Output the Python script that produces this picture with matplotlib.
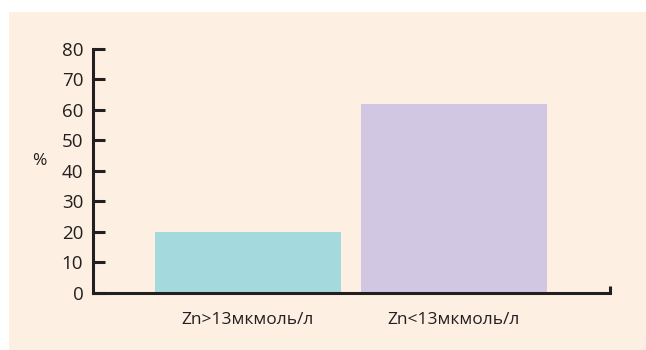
import matplotlib
matplotlib.use("Agg")
import matplotlib.pyplot as plt
from matplotlib.patches import Rectangle

categories = ["Zn>13мкмоль/л", "Zn<13мкмоль/л"]
values = [20, 62]
bar_colors = ["#a4dadd", "#d2c7e2"]
y_ticks = [0, 10, 20, 30, 40, 50, 60, 70, 80]

plt.rcParams['font.family'] = ['Open Sans', 'DejaVu Sans']
ink = "#231f20"

fig = plt.figure(figsize=(6.46, 3.5), dpi=100)
fig.patch.set_facecolor("white")
# beige panel behind the chart
fig.patches.append(Rectangle((9 / 646, 0), 1, 338 / 350, transform=fig.transFigure,
                             facecolor="#fdefe2", edgecolor="none", zorder=-1))

ax = fig.add_axes([93 / 646, 57.3 / 350, 517 / 646, 243.7 / 350])
ax.set_facecolor("none")
ax.set_zorder(1)

x = list(range(len(categories)))
ax.bar(x, values, width=0.903, color=bar_colors, zorder=1)

ax.set_xlim(-0.752, 1.757)
ax.set_ylim(0, 80)
ax.set_yticks(y_ticks)
ax.set_yticklabels([str(t) for t in y_ticks], fontsize=13.5, color=ink)
ax.set_xticks(x)
ax.set_xticklabels(categories, fontsize=12.5, color=ink)

ax.tick_params(axis='y', direction='in', length=8.5, width=2.2, color=ink, pad=7)
ax.tick_params(axis='x', length=0, pad=14)
# small end cap at right end of the x axis
ax.set_xticks([1.757], minor=True)
ax.tick_params(axis='x', which='minor', direction='in', length=5, width=2.2, color=ink)

for side in ['top', 'right']:
    ax.spines[side].set_visible(False)
for side in ['left', 'bottom']:
    ax.spines[side].set_linewidth(2.2)
    ax.spines[side].set_color(ink)
    ax.spines[side].set_zorder(3)

ax.set_ylabel("%", fontsize=12.5, rotation=0, color=ink, va='center')
ax.yaxis.set_label_coords(-0.103, 0.54)

fig.savefig("out.png", dpi=100)
